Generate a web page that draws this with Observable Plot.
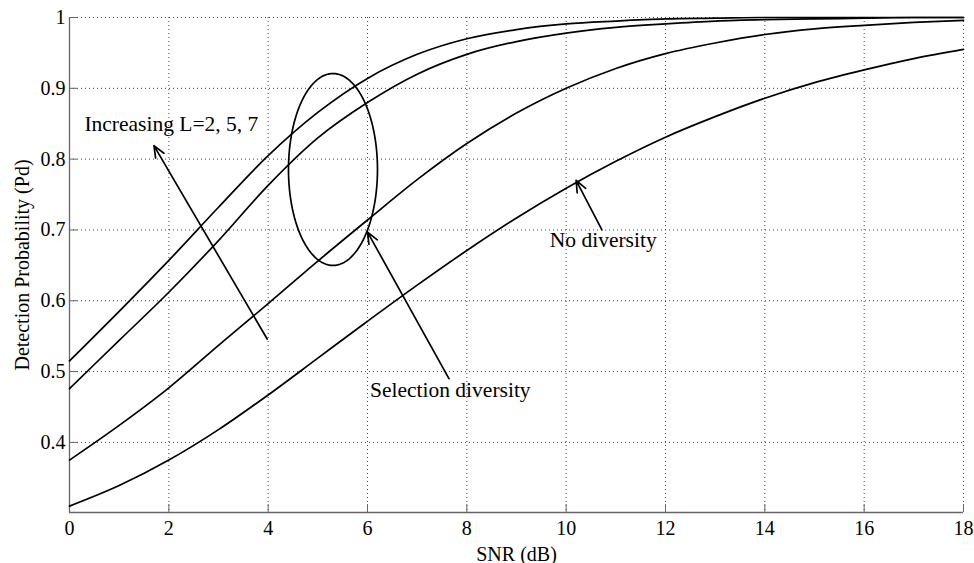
<!DOCTYPE html>
<html>
<head>
<meta charset="utf-8">
<script src="https://cdn.jsdelivr.net/npm/d3@7"></script>
<script src="https://cdn.jsdelivr.net/npm/@observablehq/plot@0.6"></script>
<style>
  html, body { margin: 0; padding: 0; background: #fff; }
  svg, svg text { font-family: "Liberation Serif", "DejaVu Serif", serif !important; }
</style>
</head>
<body>
<div id="chart"></div>
<script>
// ---- data ----
const snr = [0, 1, 2, 3, 4, 5, 6, 7, 8, 9, 10, 11, 12, 13, 14, 15, 16, 17, 18];
const pdSelL7 = [0.515, 0.585, 0.657, 0.732, 0.805, 0.866, 0.914, 0.948, 0.970, 0.983, 0.991, 0.995, 0.998, 0.999, 1.0, 1.0, 1.0, 1.0, 1.0];
const pdSelL5 = [0.476, 0.544, 0.612, 0.685, 0.763, 0.830, 0.880, 0.920, 0.948, 0.966, 0.978, 0.986, 0.991, 0.995, 0.997, 0.998, 0.999, 1.0, 1.0];
const pdSelL2 = [0.375, 0.424, 0.477, 0.537, 0.596, 0.656, 0.714, 0.771, 0.822, 0.865, 0.900, 0.928, 0.949, 0.964, 0.976, 0.984, 0.989, 0.993, 0.996];
const pdNoDiv = [0.310, 0.339, 0.375, 0.418, 0.467, 0.519, 0.571, 0.622, 0.671, 0.717, 0.759, 0.797, 0.831, 0.860, 0.886, 0.908, 0.926, 0.942, 0.955];

const seriesNames = ["Selection L=7", "Selection L=5", "Selection L=2", "No diversity"];
const seriesValues = [pdSelL7, pdSelL5, pdSelL2, pdNoDiv];

const xTicks = [0, 2, 4, 6, 8, 10, 12, 14, 16, 18];
const yTicks = [0.4, 0.5, 0.6, 0.7, 0.8, 0.9, 1];
const yTickLabels = ["0.4", "0.5", "0.6", "0.7", "0.8", "0.9", "1"];
const xDomain = [0, 18];
const yDomain = [0.301, 1];

const xLabel = "SNR (dB)";
const yLabel = "Detection Probability (Pd)";

// annotations
const annoLabels = ["Increasing L=2, 5, 7", "Selection diversity", "No diversity"];
const annoX = [0.30, 6.05, 9.67];
const annoY = [0.850, 0.4734, 0.685];

const arrowX1 = [3.98, 7.64, 10.72];
const arrowY1 = [0.546, 0.490, 0.700];
const arrowX2 = [1.70, 6.00, 10.20];
const arrowY2 = [0.819, 0.697, 0.770];

const ellipseCenter = [5.305, 0.7854];
const ellipseRadii = [0.896, 0.1355];

// ---- build tables ----
const lineData = seriesNames.flatMap((name, k) =>
  snr.map((x, i) => ({series: name, x, y: seriesValues[k][i]})));
const annoData = annoLabels.map((t, i) => ({t, x: annoX[i], y: annoY[i]}));
const arrowData = arrowX1.map((_, i) => ({x1: arrowX1[i], y1: arrowY1[i], x2: arrowX2[i], y2: arrowY2[i]}));
const ellipseData = d3.range(0, 361, 3).map(a => ({
  x: ellipseCenter[0] + ellipseRadii[0] * Math.cos(a * Math.PI / 180),
  y: ellipseCenter[1] + ellipseRadii[1] * Math.sin(a * Math.PI / 180)
}));

const W = 974, H = 563, mT = 17, mR = 11, mB = 51, mL = 69;
const tickLen = 8;
const axisColor = "#666";
const font = "Liberation Serif, DejaVu Serif, serif";

const chart = Plot.plot({
  width: W, height: H,
  marginTop: mT, marginRight: mR, marginBottom: mB, marginLeft: mL,
  style: {fontFamily: font, fontSize: "20px", color: "#000", background: "#fff", overflow: "visible"},
  x: {domain: xDomain},
  y: {domain: yDomain},
  marks: [
    Plot.gridX(xTicks, {stroke: "#444", strokeOpacity: 1, strokeDasharray: "1,3"}),
    Plot.gridY(yTicks, {stroke: "#444", strokeOpacity: 1, strokeDasharray: "1,3"}),
    Plot.ruleX(xTicks, {x: d => d, insetTop: H - mT - mB - tickLen, stroke: axisColor}),
    Plot.ruleY(yTicks, {y: d => d, insetRight: W - mL - mR - tickLen, stroke: axisColor}),
    Plot.ruleX([xDomain[0]], {x: d => d, stroke: axisColor, strokeWidth: 1.3}),
    Plot.ruleY([yDomain[0]], {y: d => d, stroke: axisColor, strokeWidth: 1.3}),
    Plot.axisX(xTicks, {tickSize: 0, tickPadding: 8, label: null, fontSize: 20, fontFamily: font}),
    Plot.axisY(yTicks, {tickSize: 0, tickPadding: 4, label: null, fontSize: 20, fontFamily: font,
      tickFormat: d => yTickLabels[yTicks.indexOf(d)]}),
    Plot.text([xLabel], {frameAnchor: "bottom", dy: 42, textAnchor: "middle", lineAnchor: "middle", fontSize: 20, fontFamily: font}),
    Plot.text([yLabel], {frameAnchor: "left", dx: -47, rotate: -90, textAnchor: "middle", lineAnchor: "middle", fontSize: 20, fontFamily: font}),
    Plot.line(lineData, {x: "x", y: "y", z: "series", stroke: "#000", strokeWidth: 1.7, curve: "monotone-x"}),
    Plot.line(ellipseData, {x: "x", y: "y", stroke: "#000", strokeWidth: 1.7, curve: "linear"}),
    Plot.arrow(arrowData, {x1: "x1", y1: "y1", x2: "x2", y2: "y2", stroke: "#000", strokeWidth: 1.7, headLength: 11, headAngle: 45}),
    Plot.text(annoData, {x: "x", y: "y", text: "t", textAnchor: "start", lineAnchor: "middle", fontSize: 21.5, fontFamily: font, fill: "#000"})
  ]
});
document.getElementById("chart").appendChild(chart);
</script>
</body>
</html>
